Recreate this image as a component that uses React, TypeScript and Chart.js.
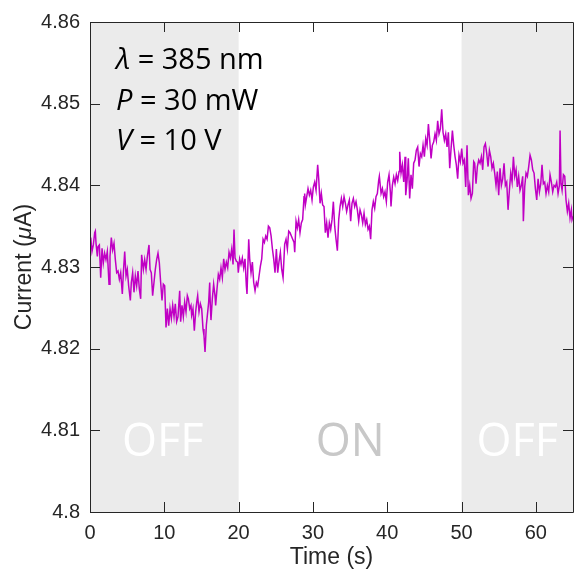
import { useEffect, useRef } from "react";
import { Chart, registerables } from "chart.js";

Chart.register(...registerables);

// ---- data: [time (s), current (µA)] ----
const samplesOff1a: [number, number][] = [
  [0, 4.833], [0.1, 4.8336], [0.27, 4.8319], [0.45, 4.8327], [0.63, 4.8342], [0.72, 4.8344], [0.81, 4.8329], [0.99, 4.8313],
  [1.08, 4.8325], [1.26, 4.8327], [1.44, 4.8287], [1.62, 4.8323], [1.79, 4.8305], [1.97, 4.8317], [2.15, 4.8309], [2.33, 4.8319],
  [2.56, 4.8279], [2.69, 4.8313], [2.87, 4.8336], [3.05, 4.8321], [3.23, 4.8329], [3.41, 4.8309], [3.59, 4.8293], [3.77, 4.8295],
  [3.95, 4.8285], [4.13, 4.8293], [4.35, 4.8267], [4.49, 4.8293], [4.67, 4.8319], [4.85, 4.8289], [5.02, 4.8297], [5.2, 4.8277],
  [5.43, 4.8259], [5.56, 4.8281], [5.74, 4.8293], [5.92, 4.8269], [6.1, 4.8289], [6.28, 4.8277], [6.46, 4.8295], [6.64, 4.8273],
  [6.82, 4.8261], [6.95, 4.8315], [7.18, 4.8297], [7.36, 4.8309], [7.54, 4.8297], [7.72, 4.8313], [7.94, 4.8327], [8.08, 4.8297],
  [8.25, 4.8293], [8.43, 4.8265], [8.61, 4.8281], [8.79, 4.8297], [8.97, 4.8309], [9.15, 4.8317], [9.33, 4.8305], [9.51, 4.8281],
  [9.69, 4.8259], [9.87, 4.8279], [10.05, 4.8277], [10.23, 4.8226], [10.41, 4.8249], [10.59, 4.8228], [10.77, 4.8249], [10.95, 4.8237],
  [11.13, 4.8253], [11.31, 4.8239], [11.48, 4.8255], [11.66, 4.8233], [11.84, 4.8239], [12.07, 4.8271], [12.2, 4.8233], [12.38, 4.8253],
  [12.56, 4.8239], [12.74, 4.8257], [12.92, 4.8245], [13.1, 4.8265],
];

const samplesOff1b: [number, number][] = [
  [13.24, 4.8261], [13.42, 4.8249], [13.59, 4.8253], [13.68, 4.8241], [13.86, 4.8249], [14.04, 4.8222], [14.22, 4.8245], [14.36, 4.8257],
  [14.49, 4.8265], [14.67, 4.8245], [14.85, 4.8255], [15.03, 4.8249], [15.21, 4.8224], [15.34, 4.8216], [15.48, 4.8196], [15.66, 4.8229],
  [15.84, 4.8245], [15.97, 4.8257], [16.11, 4.8281], [16.19, 4.8253], [16.28, 4.8235], [16.46, 4.8261], [16.64, 4.8279], [16.82, 4.8265],
  [16.91, 4.8253], [17.09, 4.8273], [17.27, 4.8291], [17.45, 4.8285], [17.63, 4.8299], [17.81, 4.8287], [17.99, 4.831], [18.17, 4.8297],
  [18.35, 4.8306], [18.53, 4.8299], [18.71, 4.8318], [18.89, 4.8311], [19.07, 4.8322], [19.25, 4.8303], [19.38, 4.8346], [19.52, 4.8311],
  [19.7, 4.8307], [19.87, 4.8306], [19.96, 4.8293],
];

const samplesOnA: [number, number][] = [
  [20.14, 4.831], [20.32, 4.8303], [20.5, 4.8311], [20.68, 4.8299], [20.86, 4.831], [21.04, 4.8277], [21.13, 4.8267], [21.36, 4.8334],
  [21.49, 4.831], [21.67, 4.8293], [21.85, 4.8306], [22.03, 4.8281], [22.21, 4.8271], [22.39, 4.8281], [22.57, 4.8277], [22.75, 4.8289],
  [22.93, 4.8301], [23.11, 4.831], [23.29, 4.8334], [23.47, 4.833], [23.65, 4.8338], [23.83, 4.8334], [24.01, 4.835], [24.19, 4.8348],
  [24.37, 4.8338], [24.55, 4.8322], [24.72, 4.831], [24.9, 4.8293], [25.08, 4.8322], [25.26, 4.8293], [25.44, 4.8307], [25.62, 4.8318],
  [25.8, 4.8297], [25.98, 4.8287], [26.2, 4.8328],
];

const samplesOnB: [number, number][] = [
  [26.38, 4.8334], [26.56, 4.8322], [26.74, 4.8344], [26.92, 4.8342], [27.1, 4.8338], [27.28, 4.8334], [27.46, 4.833], [27.55, 4.8318],
  [27.73, 4.8356], [27.9, 4.8348], [28.08, 4.8358], [28.26, 4.8342], [28.44, 4.8354], [28.62, 4.8358], [28.8, 4.8386], [28.89, 4.839],
  [28.98, 4.8376], [29.16, 4.8386], [29.34, 4.8396], [29.52, 4.8388], [29.7, 4.8394], [29.88, 4.8382], [30.06, 4.8398], [30.24, 4.8404],
  [30.42, 4.8394], [30.64, 4.8425], [30.78, 4.8408], [30.96, 4.8378], [31.13, 4.839], [31.31, 4.8376], [31.49, 4.8374], [31.67, 4.8342],
  [31.85, 4.8354], [32.03, 4.8336], [32.21, 4.8354], [32.39, 4.8346], [32.57, 4.8358], [32.75, 4.838], [32.93, 4.835], [33.11, 4.8334],
  [33.29, 4.832], [33.47, 4.8358], [33.65, 4.8374], [33.83, 4.8384], [34.01, 4.8374], [34.19, 4.8386], [34.37, 4.8378], [34.54, 4.8368],
  [34.72, 4.8376], [34.9, 4.8382], [35.08, 4.8356], [35.26, 4.8378], [35.44, 4.8384], [35.62, 4.8374], [35.8, 4.838], [35.98, 4.837],
  [36.16, 4.8356], [36.34, 4.837], [36.52, 4.8364], [36.7, 4.8354], [36.88, 4.8366], [37.06, 4.8352], [37.24, 4.8358], [37.42, 4.8346],
  [37.6, 4.835], [37.77, 4.8334], [37.95, 4.837], [38.13, 4.838], [38.31, 4.8372], [38.49, 4.8386], [38.67, 4.839], [38.85, 4.8406],
  [38.94, 4.8411],
];

const samplesOnC: [number, number][] = [
  [39.17, 4.839], [39.35, 4.8396], [39.52, 4.8386], [39.7, 4.8392], [39.88, 4.838], [40.06, 4.8404], [40.24, 4.8413], [40.42, 4.8392],
  [40.51, 4.8374], [40.69, 4.84], [40.87, 4.841], [41.05, 4.8402], [41.23, 4.8413], [41.41, 4.8406], [41.59, 4.8417], [41.68, 4.8441],
  [41.86, 4.8415], [42.04, 4.8425], [42.22, 4.8404], [42.4, 4.8435], [42.49, 4.8388], [42.66, 4.8404], [42.84, 4.8433], [43.02, 4.8384],
  [43.2, 4.8413], [43.38, 4.8396], [43.56, 4.8427], [43.74, 4.8431], [43.92, 4.8443], [44.1, 4.8447], [44.28, 4.8423], [44.46, 4.8439],
  [44.64, 4.8435], [44.82, 4.8449], [45.0, 4.8435], [45.18, 4.8457], [45.36, 4.8449], [45.54, 4.8475], [45.72, 4.8455], [45.9, 4.8433],
  [46.07, 4.8449], [46.25, 4.8453], [46.43, 4.8463], [46.61, 4.8455], [46.79, 4.8479], [46.97, 4.8463], [47.15, 4.8469], [47.33, 4.8493],
  [47.51, 4.8465], [47.69, 4.8455], [47.87, 4.8463], [48.05, 4.8447], [48.23, 4.8465], [48.41, 4.8421], [48.59, 4.8445], [48.77, 4.8467],
  [48.95, 4.8449], [49.13, 4.8435], [49.3, 4.8425], [49.48, 4.8408], [49.66, 4.8437], [49.84, 4.8429],
];

const samplesOff2: [number, number][] = [
  [50.02, 4.8445], [50.2, 4.8427], [50.38, 4.8431], [50.56, 4.8398], [50.74, 4.8449], [50.92, 4.8388], [51.1, 4.84], [51.28, 4.8384],
  [51.46, 4.839], [51.64, 4.8429], [51.77, 4.8427], [51.95, 4.8402], [52.13, 4.8423], [52.31, 4.8431], [52.49, 4.8427], [52.67, 4.8435],
  [52.85, 4.8419], [53.03, 4.8447], [53.21, 4.8451], [53.39, 4.8439], [53.57, 4.8423], [53.75, 4.8443], [53.93, 4.8435], [54.1, 4.8421],
  [54.28, 4.8427], [54.46, 4.8415], [54.64, 4.84], [54.82, 4.8417], [55.0, 4.8388], [55.18, 4.8421], [55.36, 4.84], [55.54, 4.8408],
  [55.72, 4.8427], [55.9, 4.84], [56.08, 4.8404], [56.26, 4.837], [56.44, 4.8394], [56.62, 4.8415], [56.8, 4.8404], [56.98, 4.8435],
  [57.16, 4.8411], [57.34, 4.8419], [57.51, 4.8398], [57.69, 4.8411], [57.87, 4.8394], [58.05, 4.84], [58.23, 4.8411], [58.32, 4.8356],
  [58.5, 4.8398], [58.68, 4.8415], [58.86, 4.8411], [59.04, 4.8423], [59.22, 4.8437], [59.4, 4.8431], [59.58, 4.8419], [59.76, 4.8415],
  [59.94, 4.8396], [60.12, 4.8382], [60.3, 4.8408], [60.48, 4.8392], [60.66, 4.8402], [60.83, 4.8425], [61.01, 4.8402], [61.19, 4.8404],
  [61.37, 4.839], [61.55, 4.84], [61.73, 4.8392], [61.91, 4.8413], [62.09, 4.8404], [62.27, 4.8392], [62.45, 4.84], [62.63, 4.8398],
  [62.81, 4.8404], [62.99, 4.839], [63.17, 4.84], [63.26, 4.8467], [63.39, 4.8402], [63.53, 4.8394], [63.71, 4.8413], [63.89, 4.8411],
  [64.06, 4.8382], [64.24, 4.8368], [64.42, 4.8378], [64.6, 4.836], [64.78, 4.837], [64.87, 4.8358], [65.0, 4.8362],
];

// phases
const phaseStarts = [0, 20, 50];
const phaseEnds = [20, 50, 65];
const phaseLabels = ["OFF", "ON", "OFF"];
const phaseLabelTimes = [9.8, 35, 57.5];
const phaseLabelLevel = 4.8087;
const phaseShaded = [true, false, true];

const xRange = [0, 65];
const yRange = [4.8, 4.86];
const xStep = 10;
const yStep = 0.01;

const annotationSymbols = ["λ", "P", "V"];
const annotationTexts = [" = 385 nm", " = 30 mW", " = 10 V"];

const xTitle = "Time (s)";

const AXIS_COLOR = "#262626";
const LINE_COLOR = "#c000c4";
const SHADE = "#ebebeb";
const SANS = "'Liberation Sans', Arial, Helvetica, sans-serif";
const CAL = "'Open Sans', 'Noto Sans', sans-serif";

const allSamples = [...samplesOff1a, ...samplesOff1b, ...samplesOnA, ...samplesOnB, ...samplesOnC, ...samplesOff2];

const decorPlugin = {
  id: "decor",
  beforeDatasetsDraw(chart: any) {
    const { ctx, chartArea, scales } = chart;
    const xs = scales.x, ys = scales.y;
    ctx.save();
    for (let i = 0; i < phaseStarts.length; i++) {
      if (!phaseShaded[i]) continue;
      const x0 = xs.getPixelForValue(phaseStarts[i]);
      const x1 = xs.getPixelForValue(phaseEnds[i]);
      ctx.fillStyle = SHADE;
      ctx.fillRect(x0, chartArea.top, x1 - x0, chartArea.bottom - chartArea.top);
    }
    ctx.font = `45px ${CAL}`;
    ctx.textAlign = "center";
    ctx.textBaseline = "middle";
    for (let i = 0; i < phaseLabels.length; i++) {
      ctx.fillStyle = phaseShaded[i] ? "#ffffff" : "#c8c8c8";
      ctx.fillText(phaseLabels[i], xs.getPixelForValue(phaseLabelTimes[i]), ys.getPixelForValue(phaseLabelLevel) + 2);
    }
    // annotation block
    ctx.textAlign = "left";
    ctx.textBaseline = "alphabetic";
    ctx.fillStyle = "#000000";
    const baselines = [69, 110, 150];
    for (let i = 0; i < annotationSymbols.length; i++) {
      const x = chartArea.left + 26;
      ctx.font = `italic 29px ${CAL}`;
      ctx.fillText(annotationSymbols[i], x, baselines[i]);
      const w = ctx.measureText(annotationSymbols[i]).width;
      ctx.font = `29px ${CAL}`;
      ctx.fillText(annotationTexts[i], x + w, baselines[i]);
    }
    ctx.restore();
  },
  afterDraw(chart: any) {
    const { ctx, chartArea, scales } = chart;
    const xs = scales.x, ys = scales.y;
    const { left, right, top, bottom } = chartArea;
    ctx.save();
    ctx.strokeStyle = AXIS_COLOR;
    ctx.lineWidth = 1;
    ctx.beginPath();
    ctx.rect(Math.round(left) + 0.5, Math.round(top) + 0.5, Math.round(right - left), Math.round(bottom - top));
    ctx.stroke();
    const tl = 10;
    ctx.beginPath();
    xs.ticks.forEach((t: any) => {
      const px = Math.round(xs.getPixelForValue(t.value)) + 0.5;
      ctx.moveTo(px, bottom);
      ctx.lineTo(px, bottom - tl);
      ctx.moveTo(px, top);
      ctx.lineTo(px, top + tl);
    });
    ys.ticks.forEach((t: any) => {
      const py = Math.round(ys.getPixelForValue(t.value)) + 0.5;
      ctx.moveTo(left, py);
      ctx.lineTo(left + tl, py);
      ctx.moveTo(right, py);
      ctx.lineTo(right - tl, py);
    });
    ctx.stroke();
    // y title with italic mu
    const parts: [string, boolean][] = [["Current (", false], ["μ", true], ["A)", false]];
    ctx.fillStyle = AXIS_COLOR;
    ctx.textBaseline = "middle";
    ctx.textAlign = "left";
    let total = 0;
    const widths: number[] = [];
    parts.forEach(([s, it]) => {
      ctx.font = `${it ? "italic " : ""}23px ${SANS}`;
      const w = ctx.measureText(s).width;
      widths.push(w);
      total += w;
    });
    ctx.translate(25, (top + bottom) / 2);
    ctx.rotate(-Math.PI / 2);
    let cx = -total / 2;
    parts.forEach(([s, it], i) => {
      ctx.font = `${it ? "italic " : ""}23px ${SANS}`;
      ctx.fillText(s, cx, 0);
      cx += widths[i];
    });
    ctx.restore();
  },
};

export default function App() {
  const ref = useRef<HTMLCanvasElement | null>(null);
  useEffect(() => {
    if (!ref.current) return;
    const chart = new Chart(ref.current, {
      type: "line",
      data: {
        datasets: [
          {
            data: allSamples.map(([x, y]) => ({ x, y })),
            borderColor: LINE_COLOR,
            borderWidth: 1.5,
            pointRadius: 0,
            tension: 0,
            fill: false,
          },
        ],
      },
      options: {
        animation: false,
        responsive: false,
        devicePixelRatio: 1,
        layout: { padding: { top: 17, right: 3, left: 0, bottom: 0 } },
        plugins: { legend: { display: false }, tooltip: { enabled: false }, title: { display: false } },
        scales: {
          x: {
            type: "linear",
            min: xRange[0],
            max: xRange[1],
            grid: { display: false, drawTicks: false },
            border: { display: false },
            ticks: {
              stepSize: xStep,
              includeBounds: false,
              padding: 9,
              color: AXIS_COLOR,
              font: { family: SANS, size: 20 },
              maxRotation: 0,
            },
            title: {
              display: true,
              text: xTitle,
              color: AXIS_COLOR,
              font: { family: SANS, size: 23 },
              padding: { top: 0, bottom: 2 },
            },
            afterFit: (s: any) => {
              s.height = 61;
            },
          },
          y: {
            type: "linear",
            min: yRange[0],
            max: yRange[1],
            grid: { display: false, drawTicks: false },
            border: { display: false },
            ticks: {
              stepSize: yStep,
              padding: 10,
              color: AXIS_COLOR,
              font: { family: SANS, size: 20 },
              callback: (v: any) => String(parseFloat(Number(v).toFixed(2))),
            },
            afterFit: (s: any) => {
              s.width = 90;
            },
          },
        },
      },
      plugins: [decorPlugin],
    });
    return () => chart.destroy();
  }, []);
  return (
    <div style={{ position: "absolute", left: 0, top: 0, width: 576, height: 573, background: "#fff" }}>
      <canvas ref={ref} width={576} height={573} style={{ width: 576, height: 573, display: "block" }} />
    </div>
  );
}
